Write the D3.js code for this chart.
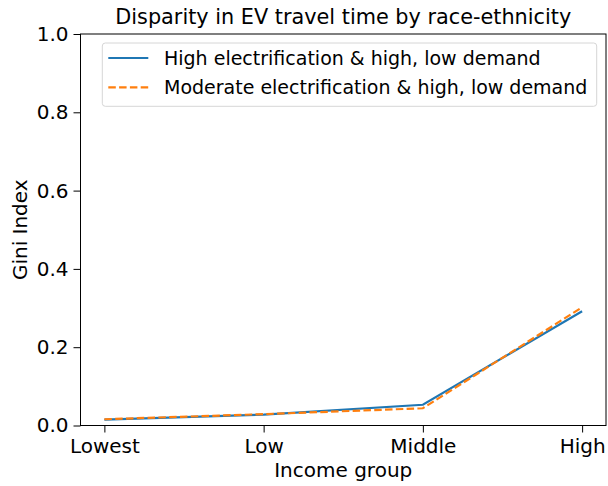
<!DOCTYPE html>
<html>
<head>
<meta charset="utf-8">
<script src="https://cdn.jsdelivr.net/npm/d3@7"></script>
<style>
  body { margin: 0; background: #fff; }
  text { font-family: "DejaVu Sans", sans-serif; fill: #000; }
</style>
</head>
<body>
<div id="chart"></div>
<script>
// data
var incomeGroups = ["Lowest", "Low", "Middle", "High"];
var highElec = [0.015, 0.028, 0.053, 0.292];
var moderateElec = [0.016, 0.029, 0.044, 0.302];
var yTicks = [0.0, 0.2, 0.4, 0.6, 0.8, 1.0];
var seriesNames = ["High electrification & high, low demand",
                   "Moderate electrification & high, low demand"];

var svgWidth = 608, svgHeight = 486;
var margin = { top: 34, left: 80.5, right: 2, bottom: 60.5 };
var width = svgWidth - margin.left - margin.right;
var height = svgHeight - margin.top - margin.bottom;
var fontSize = 20;     // ticks + axis labels
var legendSize = 19;
var titleSize = 20.8;

var svg = d3.select("#chart").append("svg")
  .attr("width", svgWidth)
  .attr("height", svgHeight);

var chartGroup = svg.append("g")
  .attr("transform", `translate(${margin.left}, ${margin.top})`);

// x is categorical but matplotlib pads 5% either side
var xScale = d3.scaleLinear()
  .domain([-0.15, incomeGroups.length - 1 + 0.15])
  .range([0, width]);
var yScale = d3.scaleLinear()
  .domain([0, 1])
  .range([height, 0]);

var bottomAxis = d3.axisBottom(xScale)
  .tickValues(d3.range(incomeGroups.length))
  .tickFormat(i => incomeGroups[i])
  .tickSize(7).tickPadding(6);
var leftAxis = d3.axisLeft(yScale)
  .tickValues(yTicks)
  .tickFormat(d3.format(".1f"))
  .tickSize(7).tickPadding(5);

var xAxis = chartGroup.append("g")
  .attr("transform", `translate(0, ${height})`)
  .call(bottomAxis);
var yAxis = chartGroup.append("g")
  .call(leftAxis);

[xAxis, yAxis].forEach(function(ax) {
  ax.select(".domain").remove();
  ax.selectAll("line").attr("stroke", "#000").attr("stroke-width", 1);
  ax.selectAll("text")
    .style("font-family", "DejaVu Sans, sans-serif")
    .style("font-size", fontSize + "px")
    .attr("fill", "#000");
});

// frame
chartGroup.append("rect")
  .attr("x", 0).attr("y", 0)
  .attr("width", width).attr("height", height)
  .attr("fill", "none")
  .attr("stroke", "#000")
  .attr("stroke-width", 1);

var line = d3.line()
  .x((d, i) => xScale(i))
  .y(d => yScale(d));

chartGroup.append("path")
  .datum(highElec)
  .attr("d", line)
  .attr("fill", "none")
  .attr("stroke", "#1f77b4")
  .attr("stroke-width", 2.2);

chartGroup.append("path")
  .datum(moderateElec)
  .attr("d", line)
  .attr("fill", "none")
  .attr("stroke", "#ff7f0e")
  .attr("stroke-width", 2.2)
  .attr("stroke-dasharray", "7.5,3.3");

// legend
var legend = chartGroup.append("g")
  .attr("transform", `translate(${102.3 - margin.left}, ${43 - margin.top})`);
legend.append("rect")
  .attr("width", 494.4).attr("height", 63.3)
  .attr("rx", 3)
  .attr("fill", "#fff").attr("fill-opacity", 0.8)
  .attr("stroke", "#d6d6d6");
var styles = [
  { color: "#1f77b4", dash: null },
  { color: "#ff7f0e", dash: "7.5,3.3" }
];
seriesNames.forEach(function(name, i) {
  var yy = 15 + i * 29.3;
  legend.append("line")
    .attr("x1", 6).attr("x2", 46)
    .attr("y1", yy).attr("y2", yy)
    .attr("stroke", styles[i].color)
    .attr("stroke-width", 2.2)
    .attr("stroke-dasharray", styles[i].dash);
  legend.append("text")
    .attr("x", 61.7).attr("y", yy)
    .attr("dy", "0.35em")
    .style("font-size", legendSize + "px")
    .text(name);
});

// title and axis labels
svg.append("text")
  .attr("x", margin.left + width / 2)
  .attr("y", 24)
  .attr("text-anchor", "middle")
  .style("font-size", titleSize + "px")
  .text("Disparity in EV travel time by race-ethnicity");

svg.append("text")
  .attr("x", margin.left + width / 2)
  .attr("y", 477)
  .attr("text-anchor", "middle")
  .style("font-size", fontSize + "px")
  .text("Income group");

svg.append("text")
  .attr("transform", `translate(27, ${margin.top + height / 2}) rotate(-90)`)
  .attr("text-anchor", "middle")
  .style("font-size", fontSize + "px")
  .text("Gini Index");
</script>
</body>
</html>
